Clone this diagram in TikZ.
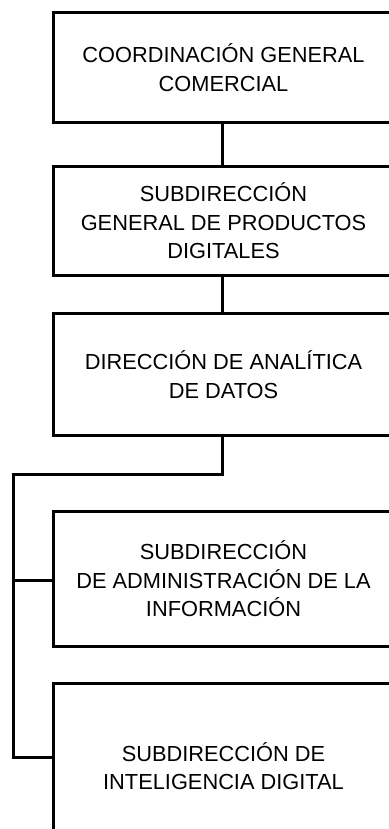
\documentclass[tikz,border=0pt]{standalone}
\usepackage{fontspec}
\setmainfont{Liberation Sans}
\usetikzlibrary{calc}

\begin{document}
\begin{tikzpicture}[x=1pt,y=-1pt,
    unit/.style={draw,line width=3pt,minimum width=341pt,align=center,
                 font=\fontsize{21.8}{28.5}\selectfont,inner sep=0pt},
    link/.style={line width=3pt}]

    \useasboundingbox (0,0) rectangle (388,829);

    % boxes (units)
    \node[unit,minimum height=110.3pt] (coord) at (223.5,67.5) {COORDINACIÓN GENERAL\\COMERCIAL};
    \node[unit,minimum height=109.6pt] (subgen) at (223.5,221) {SUBDIRECCIÓN\\GENERAL DE PRODUCTOS\\DIGITALES};
    \node[unit,minimum height=121.4pt] (analitica) at (223.5,374.5) {DIRECCIÓN DE ANALÍTICA\\DE DATOS};
    \node[unit,minimum height=134.7pt] (admin) at (223.5,578.8) {SUBDIRECCIÓN\\DE ADMINISTRACIÓN DE LA\\INFORMACIÓN};
    \node[unit,minimum height=165pt] (intel) at (223.5,766) {SUBDIRECCIÓN DE\\INTELIGENCIA DIGITAL};

    % bus points
    \coordinate (busturn) at (222.5,474.8);
    \coordinate (bustop) at (13.5,474.8);
    \coordinate (busadmin) at (13.5,580.5);
    \coordinate (busend) at (13.5,757.2);

    % paths
    \draw[link] (coord.south -| busturn) -- (subgen.north -| busturn); % coord -> subgen
    \draw[link] (subgen.south -| busturn) -- (analitica.north -| busturn); % subgen -> analitica
    \draw[link] (analitica.south -| busturn) -- (busturn) -- (bustop) -- (busend)
        -- (busend -| intel.west); % bus -> intel
    \draw[link] (busadmin) -- (busadmin -| admin.west); % bus -> admin

\end{tikzpicture}
\end{document}
